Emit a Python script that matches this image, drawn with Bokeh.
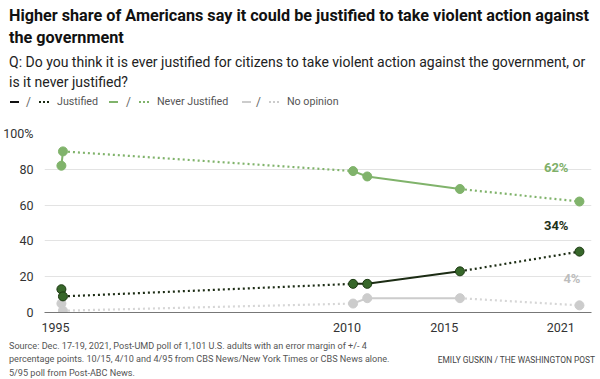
from bokeh.plotting import figure
from bokeh.models import Label, FixedTicker, Range1d, Div
from bokeh.layouts import column
from bokeh.embed import file_html
from bokeh.resources import INLINE

# ---- data ----
poll_labels = ["4/95", "5/95", "4/10", "1/11", "10/15", "12/21"]
poll_dates = [1995.30, 1995.38, 2010.31, 2011.04, 2015.81, 2021.96]
justified = [13, 9, 16, 16, 23, 34]
never_justified = [82, 90, 79, 76, 69, 62]
no_opinion = [5, 1, 5, 8, 8, 4]
solid_groups = [[0, 1], [2, 3, 4]]
dotted_groups = [[1, 2], [4, 5]]
x_ticks = [1995, 2010, 2015, 2021]
y_ticks = [0, 20, 40, 60, 80, 100]
series_names = ["Justified", "Never Justified", "No opinion"]

title_lines = ["Higher share of Americans say it could be justified to take violent action against",
               "the government"]
subtitle_lines = ["Q: Do you think it is ever justified for citizens to take violent action against the government, or",
                  "is it never justified?"]
notes = [
    "Source: Dec. 17-19, 2021, Post-UMD poll of 1,101 U.S. adults with an error margin of +/- 4",
    "percentage points. 10/15, 4/10 and 4/95 from CBS News/New York Times or CBS News alone.",
    "5/95 poll from Post-ABC News.",
]
credit = "EMILY GUSKIN / THE WASHINGTON POST"

W = 598
TOP_H, FIG_H, NOTE_H = 118, 218, 42
FONT = "Roboto"
C_JUST, C_JUST_FILL, C_JUST_EDGE = "#1c2c14", "#37672a", "#1c3a12"
C_NEVER = "#80b36b"
C_NONE = "#cccccc"

def absdiv(left, top, html, style):
    return (f'<div style="position:absolute;left:{left}px;top:{top}px;white-space:nowrap;'
            f'{style}">{html}</div>')

# ---- header (title, question, legend) ----
parts = []
ts = "font-size:16.2px;font-weight:bold;color:#111;line-height:20px"
parts.append(absdiv(9, 16 - 10, title_lines[0], ts))
parts.append(absdiv(9, 38 - 10, title_lines[1], ts))
ss = "font-size:14px;color:#222;line-height:17px"
parts.append(absdiv(9, 62 - 8.5, subtitle_lines[0], ss))
parts.append(absdiv(9, 82 - 8.5, subtitle_lines[1], ss))

legend_pos = [(10, 28, 39, 57), (109, 128, 139, 157), (242, 258, 269, 287)]
legend_cols = [("#111111", C_JUST), (C_NEVER, C_NEVER), (C_NONE, C_NONE)]
LY = 102
for name, (x0, xs, xd, xt), (lc, dc) in zip(series_names, legend_pos, legend_cols):
    parts.append(absdiv(x0, LY - 1.25, "", f"width:9px;height:0;border-top:2.5px solid {lc}"))
    parts.append(absdiv(xs - 2, LY - 7, "/", "font-size:12px;color:#666;line-height:14px"))
    parts.append(absdiv(xd, LY - 1, "", f"width:10px;height:0;border-top:2px dotted {dc}"))
    parts.append(absdiv(xt, LY - 7, name, "font-size:10.7px;color:#555;line-height:14px"))

header = Div(text=f'<div style="position:relative;width:{W}px;height:{TOP_H}px;font-family:{FONT};">'
                  + "".join(parts) + "</div>",
             width=W, height=TOP_H, margin=0)

# ---- chart ----
p = figure(width=W, height=FIG_H, output_backend="svg", toolbar_location=None,
           x_range=Range1d(1994.43, 2022.58), y_range=Range1d(0, 100),
           min_border_left=42, min_border_right=7, min_border_top=15, min_border_bottom=24, margin=0)
p.outline_line_color = None
p.background_fill_color = "white"
p.border_fill_color = "white"

p.xgrid.grid_line_color = None
p.ygrid.grid_line_color = "#e3e3e3"
p.ygrid.grid_line_width = 1
p.ygrid.ticker = FixedTicker(ticks=y_ticks)

p.yaxis.ticker = FixedTicker(ticks=y_ticks)
p.yaxis.major_label_overrides = {100: "100%"}
p.yaxis.axis_line_color = None
p.yaxis.major_tick_line_color = None
p.yaxis.minor_tick_line_color = None
p.yaxis.major_label_standoff = 5
p.yaxis.major_label_text_font = FONT
p.yaxis.major_label_text_font_size = "12.5px"
p.yaxis.major_label_text_color = "#333333"

p.xaxis.ticker = FixedTicker(ticks=x_ticks)
p.xaxis.axis_line_color = "#777777"
p.xaxis.axis_line_width = 1
p.xaxis.major_tick_line_color = None
p.xaxis.minor_tick_line_color = None
p.xaxis.major_label_standoff = 4
p.xaxis.major_label_text_font = FONT
p.xaxis.major_label_text_font_size = "12.5px"
p.xaxis.major_label_text_color = "#333333"

series = [
    (no_opinion, C_NONE, "#d6d6d6", C_NONE, C_NONE),
    (never_justified, C_NEVER, C_NEVER, C_NEVER, C_NEVER),
    (justified, C_JUST, C_JUST, C_JUST_FILL, C_JUST_EDGE),
]
for vals, solid_c, dot_c, fill_c, edge_c in series:
    for g in dotted_groups:
        p.line([poll_dates[i] for i in g], [vals[i] for i in g],
               line_color=dot_c, line_width=2.2, line_dash="2 3")
    for g in solid_groups:
        p.line([poll_dates[i] for i in g], [vals[i] for i in g],
               line_color=solid_c, line_width=2)
    p.scatter(poll_dates, vals, size=9, fill_color=fill_c, line_color=edge_c, line_width=1)

end_labels = [
    (never_justified, "#7fb069", 0, 34),
    (justified, "#1e3016", 0, 26),
    (no_opinion, "#bdbdbd", 12, 27),
]
for vals, col, xo, yo in end_labels:
    p.add_layout(Label(x=poll_dates[-1], y=vals[-1], x_offset=-11 + xo, y_offset=yo,
                       text=f"{vals[-1]}%", text_align="right", text_baseline="middle",
                       text_font=FONT, text_font_style="bold", text_font_size="13px",
                       text_color=col))

# ---- footer ----
fparts = []
for i, t in enumerate(notes):
    fparts.append(absdiv(9, 3.5 + 13.5 * i, t, "font-size:9.1px;color:#555;line-height:12px"))
fparts.append(f'<div style="position:absolute;right:3px;top:18px;white-space:nowrap;'
              f'font-size:8.4px;color:#444;line-height:12px">{credit}</div>')
footer = Div(text=f'<div style="position:relative;width:{W}px;height:{NOTE_H}px;font-family:{FONT};">'
                  + "".join(fparts) + "</div>",
             width=W, height=NOTE_H, margin=0)

layout = column(header, p, footer, spacing=0)
open("out.html", "w").write(file_html(layout, INLINE))
